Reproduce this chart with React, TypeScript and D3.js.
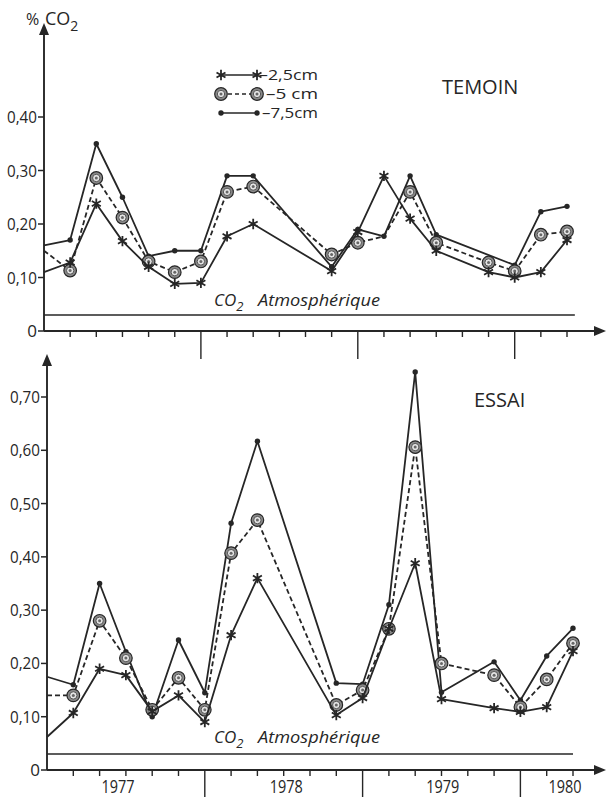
import React from 'react';
import * as d3 from 'd3';

// ---- data (x in 2-month steps from Jan 1977) ----
const positions = [0, 1, 2, 3, 4, 5, 6, 7, 8, 11, 12, 13, 14, 15, 17, 18, 19, 20];

const temoin25 = [0.11, 0.128, 0.238, 0.168, 0.12, 0.088, 0.09, 0.177, 0.2, 0.112, 0.185, 0.29, 0.21, 0.15, 0.11, 0.1, 0.11, 0.17];
const temoin50 = [0.15, 0.113, 0.286, 0.212, 0.13, 0.11, 0.13, 0.26, 0.27, 0.143, 0.165, 0.177, 0.26, 0.165, 0.128, 0.112, 0.18, 0.186];
const temoin75 = [0.16, 0.17, 0.35, 0.25, 0.14, 0.15, 0.15, 0.29, 0.29, 0.12, 0.19, 0.177, 0.29, 0.18, null, 0.123, 0.223, 0.233];

const essai25 = [0.062, 0.107, 0.19, 0.178, 0.11, 0.14, 0.09, 0.253, 0.36, 0.103, 0.135, 0.265, 0.388, 0.133, 0.116, 0.109, 0.118, 0.223];
const essai50 = [0.14, 0.14, 0.28, 0.21, 0.113, 0.173, 0.113, 0.407, 0.469, 0.122, 0.15, 0.265, 0.606, 0.2, 0.178, 0.118, 0.17, 0.238];
const essai75 = [0.175, 0.16, 0.35, 0.222, 0.1, 0.244, 0.145, 0.463, 0.617, 0.163, 0.161, 0.31, 0.747, 0.146, 0.203, 0.131, 0.214, 0.266];

const seriesLabels = ['–2,5cm', '–5 cm', '–7,5cm'];
const temoinHiddenMarks50 = [13];

const yearLabels = ['1977', '1978', '1979', '1980'];
const yearLabelPos = [2.7, 9.1, 15.05, 19.7];
const yearBoundaries = [6, 12, 18];
const minorTicks = d3.range(1, 21);

const topTicks = [0, 0.1, 0.2, 0.3, 0.4];
const bottomTicks = [0, 0.1, 0.2, 0.3, 0.4, 0.5, 0.6, 0.7];
const atmCO2 = 0.03;

const INK = '#262626';
const FONT = '"Open Sans", "DejaVu Sans", sans-serif';

const fmt = (v: number) => (v === 0 ? '0' : v.toFixed(2).replace('.', ','));

type MarkKind = 'star' | 'ring' | 'dot';

function Marker({ kind, x, y }: { kind: MarkKind; x: number; y: number }) {
  if (kind === 'star') {
    const p = d3.symbol(d3.symbolAsterisk, 75)() as string;
    return <path d={p} transform={`translate(${x},${y})`} fill="none" stroke={INK} strokeWidth={1.8} />;
  }
  if (kind === 'ring') {
    return (
      <g transform={`translate(${x},${y})`}>
        <circle r={6.3} fill="#8a8a8a" stroke={INK} strokeWidth={1.2} />
        <circle r={3.7} fill="#e4e4e4" stroke="#555" strokeWidth={1} />
        <circle r={1.5} fill="#666" />
      </g>
    );
  }
  return <circle cx={x} cy={y} r={2.7} fill={INK} />;
}

interface PanelProps {
  x0: number; x1: number; yZero: number; yMaxPix: number; yMaxVal: number;
  arrowTop: number; ticks: number[]; majorLen: number; atmEnd: number;
  s25: (number | null)[]; s50: (number | null)[]; s75: (number | null)[];
  hidden50: number[]; title: string; titleX: number; titleY: number;
  atmY: number; years: boolean;
}

function Panel(p: PanelProps) {
  const x = d3.scaleLinear().domain([0, 20]).range([p.x0, p.x1]);
  const y = d3.scaleLinear().domain([0, p.yMaxVal]).range([p.yZero, p.yMaxPix]);
  const axisX = x(0);
  const mk = (vals: (number | null)[]) =>
    positions.map((k, i) => ({ k, v: vals[i] })).filter((d) => d.v !== null) as { k: number; v: number }[];
  const line = d3.line<{ k: number; v: number }>().x((d) => x(d.k)).y((d) => y(d.v));
  const series: { vals: { k: number; v: number }[]; kind: MarkKind; dash?: string; hidden: number[] }[] = [
    { vals: mk(p.s75), kind: 'dot', hidden: [] },
    { vals: mk(p.s50), kind: 'ring', dash: '5,3', hidden: p.hidden50 },
    { vals: mk(p.s25), kind: 'star', hidden: [] },
  ];
  const yAxisTop = p.arrowTop;
  const xAxisEnd = 606;
  return (
    <g>
      {/* CO2 atmospheric line */}
      <line x1={axisX} x2={x(p.atmEnd)} y1={y(atmCO2)} y2={y(atmCO2)} stroke={INK} strokeWidth={1.5} />
      <text y={p.atmY} fontFamily={FONT} fill={INK}>
        <tspan x={214} fontSize={17} fontStyle="italic">CO</tspan>
        <tspan fontSize={13} dy={5} fontStyle="italic">2</tspan>
        <tspan x={258} dy={-5} fontSize={16} fontStyle="italic" textLength={122} lengthAdjust="spacingAndGlyphs">Atmosphérique</tspan>
      </text>
      {/* y axis */}
      <line x1={axisX} x2={axisX} y1={p.yZero} y2={yAxisTop + 8} stroke={INK} strokeWidth={1.9} />
      <path d={`M${axisX},${yAxisTop} L${axisX - 5},${yAxisTop + 12} L${axisX + 5},${yAxisTop + 12} Z`} fill={INK} />
      {p.ticks.map((t) => (
        <g key={t}>
          <line x1={axisX - 6} x2={axisX} y1={y(t)} y2={y(t)} stroke={INK} strokeWidth={1.5} />
          <text x={axisX - 7} y={y(t) + 6} textAnchor="end" fontFamily={FONT} fontSize={17} fill={INK}
            {...(t === 0 ? {} : { textLength: 30, lengthAdjust: 'spacingAndGlyphs' })}>{fmt(t)}</text>
        </g>
      ))}
      {/* x axis */}
      <line x1={axisX} x2={xAxisEnd - 8} y1={p.yZero} y2={p.yZero} stroke={INK} strokeWidth={1.9} />
      <path d={`M${xAxisEnd},${p.yZero} L${xAxisEnd - 12},${p.yZero - 5} L${xAxisEnd - 12},${p.yZero + 5} Z`} fill={INK} />
      {minorTicks.filter((k) => !yearBoundaries.includes(k)).map((k) => (
        <line key={k} x1={x(k)} x2={x(k)} y1={p.yZero} y2={p.yZero + 6} stroke={INK} strokeWidth={1.4} />
      ))}
      {yearBoundaries.map((k) => (
        <line key={k} x1={x(k)} x2={x(k)} y1={p.yZero} y2={p.yZero + p.majorLen} stroke={INK} strokeWidth={1.4} />
      ))}
      {p.years && yearLabels.map((lab, i) => (
        <text key={lab} x={x(yearLabelPos[i])} y={p.yZero + 23} textAnchor="middle" fontFamily={FONT} fontSize={18}
          fill={INK} textLength={33} lengthAdjust="spacingAndGlyphs">{lab}</text>
      ))}
      {/* series */}
      {series.map((s, si) => (
        <g key={si}>
          <path d={line(s.vals) as string} fill="none" stroke={INK} strokeWidth={1.8}
            strokeDasharray={s.dash} strokeLinejoin="round" />
          {s.vals.filter((d) => d.k > 0 && !s.hidden.includes(d.k)).map((d) => (
            <Marker key={d.k} kind={s.kind} x={x(d.k)} y={y(d.v)} />
          ))}
        </g>
      ))}
      <text x={p.titleX} y={p.titleY} fontFamily={FONT} fontSize={20} fill={INK}>{p.title}</text>
    </g>
  );
}

function Legend() {
  const rows: { kind: MarkKind; dash?: string; y: number; tx: number }[] = [
    { kind: 'star', y: 75, tx: 259 },
    { kind: 'ring', dash: '4,3', y: 94, tx: 266 },
    { kind: 'dot', y: 113, tx: 262 },
  ];
  return (
    <g>
      {rows.map((r, i) => (
        <g key={i}>
          <line x1={221} x2={257} y1={r.y} y2={r.y} stroke={INK} strokeWidth={1.7} strokeDasharray={r.dash} />
          <Marker kind={r.kind} x={221} y={r.y} />
          <Marker kind={r.kind} x={257} y={r.y} />
          <text x={r.tx} y={r.y + 5} fontFamily={FONT} fontSize={14} fill={INK}
            textLength={318 - r.tx} lengthAdjust="spacingAndGlyphs">{seriesLabels[i]}</text>
        </g>
      ))}
    </g>
  );
}

export default function App() {
  return (
    <svg width={607} height={802} viewBox="0 0 607 802"
      style={{ position: 'absolute', left: 0, top: 0, background: '#fff' }}>
      <rect width={607} height={802} fill="#fff" />
      <text y={25} fontFamily={FONT} fill={INK}>
        <tspan x={26} fontSize={16}>%</tspan>
        <tspan x={45} fontSize={18}>CO</tspan>
        <tspan fontSize={14} dy={6}>2</tspan>
      </text>
      <Panel x0={44} x1={567} yZero={331} yMaxPix={117} yMaxVal={0.4} arrowTop={23} ticks={topTicks}
        majorLen={28} atmEnd={20.3} s25={temoin25} s50={temoin50} s75={temoin75} hidden50={temoinHiddenMarks50}
        title="TEMOIN" titleX={442} titleY={94} atmY={306} years={false} />
      <Panel x0={47} x1={573} yZero={770} yMaxPix={397} yMaxVal={0.7} arrowTop={354} ticks={bottomTicks}
        majorLen={27} atmEnd={20} s25={essai25} s50={essai50} s75={essai75} hidden50={[]}
        title="ESSAI" titleX={474} titleY={407} atmY={743} years={true} />
      <Legend />
    </svg>
  );
}
